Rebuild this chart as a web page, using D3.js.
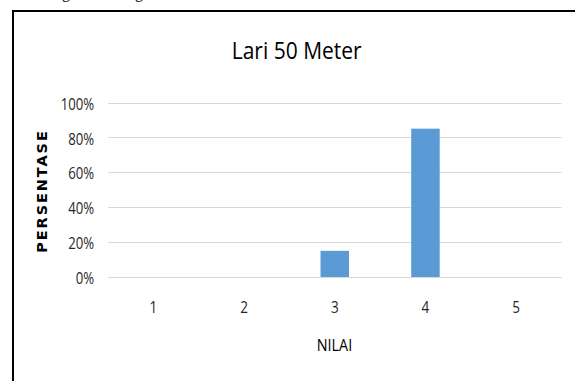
<!DOCTYPE html>
<html>
<head>
<meta charset="utf-8">
<script src="https://cdn.jsdelivr.net/npm/d3@7/dist/d3.min.js"></script>
<style>
  html, body { margin: 0; padding: 0; background: #fff; }
  svg { display: block; }
</style>
</head>
<body>
<svg id="chart" width="575" height="381"></svg>
<script>
// Score categories and share of students per score
const categories = ["1", "2", "3", "4", "5"];
const values = [0, 0, 0.15, 0.85, 0];
const yTicks = [0, 0.2, 0.4, 0.6, 0.8, 1.0];
const title = "Lari 50 Meter";
const xTitle = "NILAI";
const yTitle = "PERSENTASE";

const svg = d3.select("#chart");
const W = 575, H = 381;
const plot = { left: 108, right: 561.5, top: 102.5, bottom: 277 };
const sans = "'Open Sans', sans-serif";

// Narrow a text horizontally by a factor of its natural length
function condense(sel, factor) {
  sel.each(function () {
    const len = this.getComputedTextLength();
    d3.select(this).attr("textLength", len * factor).attr("lengthAdjust", "spacingAndGlyphs");
  });
}

svg.append("rect").attr("width", W).attr("height", H).attr("fill", "#fff");

// Descenders of the caption line above the frame
svg.append("text").attr("x", 62).attr("y", -2)
  .attr("font-family", "'Liberation Serif', serif").attr("font-size", 16).text("g");
svg.append("text").attr("x", 135).attr("y", -2)
  .attr("font-family", "'Liberation Serif', serif").attr("font-size", 16).text("g");

// Frame edges (top and left)
svg.append("line").attr("x1", 12).attr("x2", W).attr("y1", 11).attr("y2", 11)
  .attr("stroke", "#000").attr("stroke-width", 2);
svg.append("line").attr("x1", 13).attr("x2", 13).attr("y1", 10).attr("y2", H)
  .attr("stroke", "#000").attr("stroke-width", 2);

const x = d3.scaleBand().domain(categories)
  .range([plot.left, plot.right])
  .paddingInner(0.686).paddingOuter(0.343);
const y = d3.scaleLinear().domain([0, 1]).range([plot.bottom, plot.top]);

// Gridlines
svg.append("g").selectAll("line").data(yTicks).join("line")
  .attr("x1", plot.left).attr("x2", plot.right)
  .attr("y1", d => Math.round(y(d)) + 0.5).attr("y2", d => Math.round(y(d)) + 0.5)
  .attr("stroke", "#d9d9d9").attr("stroke-width", 1);

// Bars
svg.append("g").selectAll("rect").data(categories.map((c, i) => ({ c, v: values[i] })))
  .join("rect")
  .attr("x", d => x(d.c))
  .attr("width", x.bandwidth())
  .attr("y", d => y(d.v))
  .attr("height", d => y(0) - y(d.v))
  .attr("fill", "#5b9bd5");

// Y axis labels
const yAxis = d3.axisLeft(y).tickValues(yTicks).tickFormat(d3.format(".0%")).tickSize(0).tickPadding(14);
const gy = svg.append("g").attr("transform", `translate(${plot.left},1.5)`).call(yAxis);
gy.select(".domain").remove();
gy.selectAll("text").attr("font-family", sans).attr("font-size", 16).attr("fill", "#262626")
  .call(condense, 0.82);

// X axis labels
const xAxis = d3.axisBottom(x).tickSize(0).tickPadding(24);
const gx = svg.append("g").attr("transform", `translate(0,${plot.bottom})`).call(xAxis);
gx.select(".domain").remove();
gx.selectAll("text").attr("font-family", sans).attr("font-size", 16.5).attr("fill", "#262626")
  .call(condense, 0.82);

// Titles
svg.append("text").attr("x", 296.7).attr("y", 58.5).attr("text-anchor", "middle")
  .attr("font-family", sans).attr("font-size", 23).attr("fill", "#000")
  .attr("textLength", 130).attr("lengthAdjust", "spacingAndGlyphs").text(title);

svg.append("text").attr("x", 334.5).attr("y", 351).attr("text-anchor", "middle")
  .attr("font-family", sans).attr("font-size", 15.5).attr("fill", "#000")
  .attr("textLength", 35.5).attr("lengthAdjust", "spacingAndGlyphs").text(xTitle);

svg.append("text").attr("transform", "translate(47,191) rotate(-90)")
  .attr("text-anchor", "middle")
  .attr("font-family", "'DejaVu Sans', sans-serif").attr("font-weight", "bold")
  .attr("font-size", 14.5).attr("letter-spacing", 1.9).attr("fill", "#000").text(yTitle);
</script>
</body>
</html>
